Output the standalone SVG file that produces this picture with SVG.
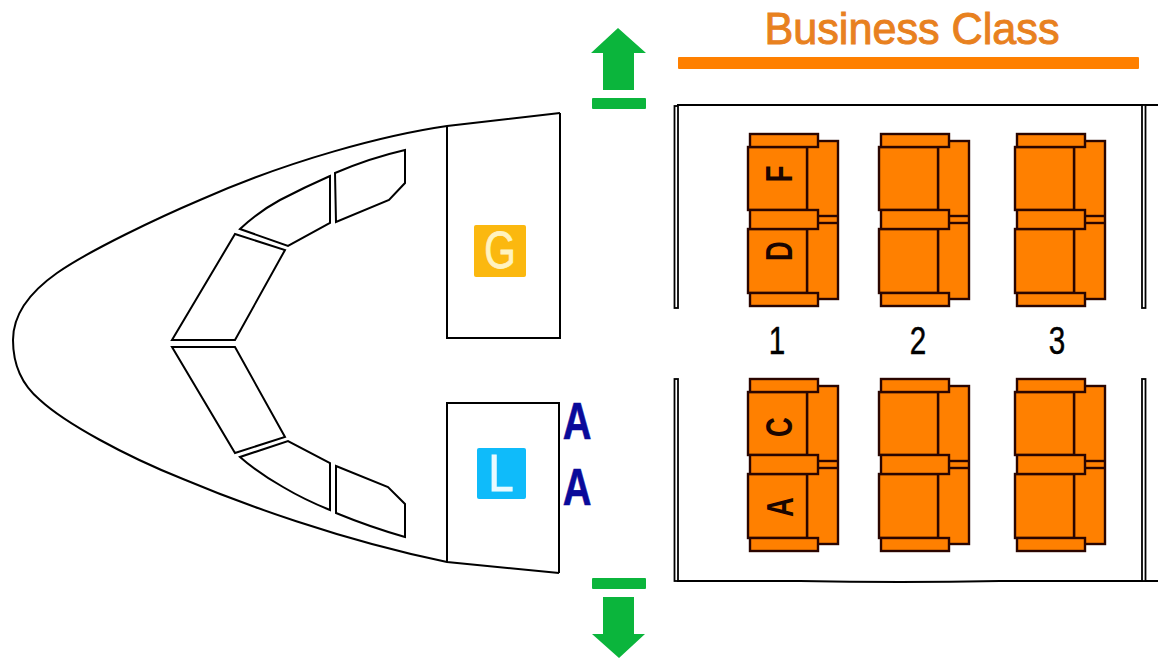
<svg xmlns="http://www.w3.org/2000/svg" width="1158" height="662" viewBox="0 0 1158 662">
<style>
.ln{fill:none;stroke:#000;stroke-width:2;stroke-linejoin:miter}
.wall{fill:#fff;stroke:#000;stroke-width:1.8}
.s{fill:#FF8000;stroke:#2a0500;stroke-width:2.4}
.g{fill:#0BB53C}
.t{font-family:"Liberation Sans",Arial,sans-serif}
.num{font-size:38px;fill:#000;stroke:#000;stroke-width:.5}
.seatl{font-size:37px;font-weight:bold;fill:#1a0500}
.aa{font-size:51px;font-weight:bold;fill:#0A0A9A;stroke:#0A0A9A;stroke-width:.6}
.box{font-size:52px;stroke-width:.8}
</style>
<defs>
<g id="pair">
<rect class="s" x="807" y="141" width="31" height="158"/>
<line class="s" x1="818" y1="216" x2="838" y2="216"/>
<line class="s" x1="818" y1="223" x2="838" y2="223"/>
<rect class="s" x="748" y="147" width="59" height="63"/>
<rect class="s" x="748" y="229" width="59" height="64"/>
<rect class="s" x="750" y="134" width="68" height="13"/>
<rect class="s" x="750" y="210" width="68" height="19"/>
<rect class="s" x="750" y="293" width="68" height="13"/>
</g>
</defs>
<g id="connectors"></g>
<g id="fuselage">
<path class="ln" d="M560 113L447 126C385 135 290 160 200 200C160 217 90 250 57 273C30 292 13 315 13 340C13 365 22 385 40 400C65 423 125 456 183 479C240 503 340 540 447 562L559 573"/>
</g>
<g id="galley-g">
<path class="ln" d="M447 126V338H560V113"/>
<rect x="474" y="225" width="52" height="52" rx="2" fill="#FBB80F"/>
<text class="t box" fill="#FFF3C0" stroke="#FFF3C0" transform="translate(500 268) scale(.78 1)" text-anchor="middle">G</text>
</g>
<g id="lavatory-l">
<path class="ln" d="M447 562V403H559V573"/>
<rect x="477" y="448" width="49" height="51" rx="2" fill="#0FBBFA"/>
<text class="t box" fill="#E8FAFF" stroke="#E8FAFF" transform="translate(501 491) scale(.88 1)" text-anchor="middle">L</text>
</g>
<g id="windows">
<path class="ln" d="M335 173Q370 158 405 150V183L389 200L336 222Z"/>
<path class="ln" d="M330 176V223L288 246L240 229Q258 212 280 200Q305 187 330 176Z"/>
<path class="ln" d="M235 234L285 250L235 340H172Z"/>
<path class="ln" d="M336 466L388 487L405 504V537Q370 527 336 513Z"/>
<path class="ln" d="M330 463V510Q305 500 283 487Q258 473 240 457L288 441Z"/>
<path class="ln" d="M235 453L285 437L235 347H172Z"/>
</g>
<g id="door-marker-a">
<text class="t aa" transform="translate(577 439) scale(.78 1)" text-anchor="middle">A</text>
<text class="t aa" transform="translate(577 505) scale(.78 1)" text-anchor="middle">A</text>
</g>
<g id="exit-up">
<path class="g" d="M618 28L646 53H634V90H603V53H591Z"/>
<rect class="g" x="592" y="98" width="54" height="11" rx="1"/>
</g>
<g id="exit-down">
<rect class="g" x="592" y="578" width="54" height="11" rx="1"/>
<path class="g" d="M603 597H634V634H645L619 658L592 634H603Z"/>
</g>
<g id="header">
<text class="t" x="912" y="44" font-size="45" fill="#E8811F" stroke="#E8811F" stroke-width="1" text-anchor="middle" textLength="295" lengthAdjust="spacingAndGlyphs">Business Class</text>
<rect x="678" y="57" width="461" height="12" rx="1" fill="#FF8000"/>
</g>
<g id="cabin-walls">
<path class="ln" d="M677 105H1158"/>
<path class="ln" d="M677 581H800Q900 583 1000 581H1158"/>
<rect class="wall" x="674.500" y="106" width="3.500" height="202"/>
<rect class="wall" x="1142" y="105" width="3.500" height="203"/>
<rect class="wall" x="674.500" y="379" width="3.500" height="202"/>
<rect class="wall" x="1142" y="379" width="3.500" height="202"/>
</g>
<g id="seats-row1-top"><use href="#pair"/></g>
<g id="seats-row2-top"><use href="#pair" x="131"/></g>
<g id="seats-row3-top"><use href="#pair" x="267"/></g>
<g id="seats-row1-bottom"><use href="#pair" y="245"/></g>
<g id="seats-row2-bottom"><use href="#pair" x="131" y="245"/></g>
<g id="seats-row3-bottom"><use href="#pair" x="267" y="245"/></g>
<g id="seat-labels">
<text class="t seatl" transform="translate(792 174) rotate(-90) scale(.74 1)" text-anchor="middle">F</text>
<text class="t seatl" transform="translate(792 251) rotate(-90) scale(.74 1)" text-anchor="middle">D</text>
<text class="t seatl" transform="translate(792 427) rotate(-90) scale(.74 1)" text-anchor="middle">C</text>
<text class="t seatl" transform="translate(793 507) rotate(-90) scale(.74 1)" text-anchor="middle">A</text>
</g>
<g id="row-numbers">
<text class="t num" transform="translate(777 354) scale(.78 1)" text-anchor="middle">1</text>
<text class="t num" transform="translate(918 354) scale(.78 1)" text-anchor="middle">2</text>
<text class="t num" transform="translate(1057 354) scale(.78 1)" text-anchor="middle">3</text>
</g>
</svg>
